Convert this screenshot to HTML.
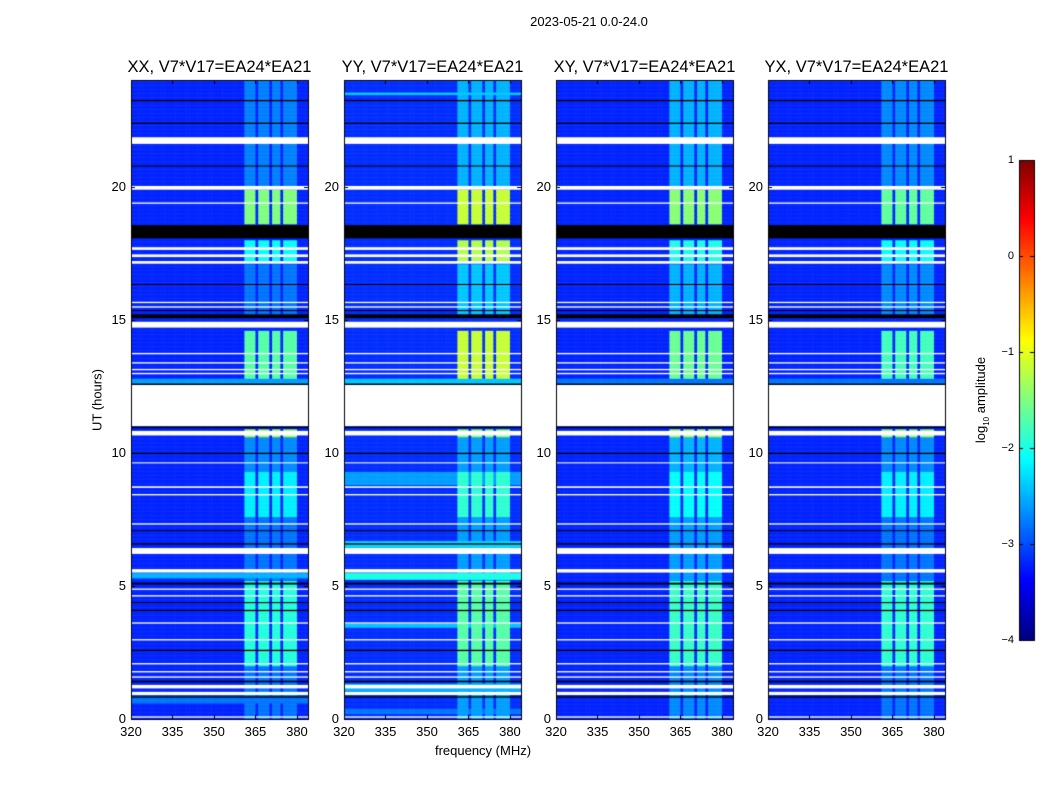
<!DOCTYPE html>
<html><head><meta charset="utf-8">
<style>
body{margin:0;background:#fff;font-family:"Liberation Sans",sans-serif;}
#wrap{position:relative;width:1050px;height:800px;overflow:hidden;background:#fff}
.t{position:absolute;font-size:13px;color:#000;white-space:nowrap}
.title{position:absolute;font-size:16.5px;white-space:nowrap;transform:translateX(-50%)}
canvas{position:absolute;left:0;top:0}
</style></head><body>
<div id="wrap">
<canvas id="cv" width="1050" height="800"></canvas>
<div class="t" style="left:589px;top:14px;transform:translateX(-50%)">2023-05-21 0.0-24.0</div>
<div class="t" style="left:483px;top:743px;transform:translateX(-50%)">frequency (MHz)</div>
<div class="t" style="left:97px;top:400px;transform:translate(-50%,-50%) rotate(-90deg)">UT (hours)</div>
<div class="t" style="left:982px;top:400px;transform:translate(-50%,-50%) rotate(-90deg)">log<sub style="font-size:8px">10</sub> amplitude</div>
<div id="labels"></div>
</div>
<script>
// ---- data ----
const panelTitles = ["XX, V7*V17=EA24*EA21","YY, V7*V17=EA24*EA21","XY, V7*V17=EA24*EA21","YX, V7*V17=EA24*EA21"];
const xTicks = [320,335,350,365,380];
const yTicks = [0,5,10,15,20];
const cbTicks = [1,0,-1,-2,-3,-4];
const freqMin = 320, freqMax = 384, timeMin = 0, timeMax = 24;
const baseLevel = [-3.2,-3.15,-3.2,-3.2];
const bgBands = [
 [[12.6,12.8,-2.6],[5.3,5.5,-2.5],[0.6,0.9,-2.8]],
 [[12.6,12.8,-2.4],[8.8,9.3,-2.6],[5.25,5.5,-2.0],[6.45,6.7,-2.3],[1.05,1.35,-2.5],[3.45,3.6,-2.4],[23.45,23.55,-2.4],[0.2,0.4,-2.8]],
 [[12.6,12.8,-2.8]],
 [[12.6,12.8,-2.8]]
];
const rfiChannels = [[361,365.2],[366,370],[371,374.5],[375.5,380]];
const rfiSegs = [
 [[18.6,19.9,-1.5],[17.2,18.0,-2.1],[12.8,14.6,-1.7],[7.6,9.3,-2.2],[2.0,5.2,-1.95],[10.6,10.9,-1.3],[15.2,17.1,-2.8],[20.0,24,-2.75],[5.2,7.6,-2.8],[9.3,10.6,-2.7],[0,2.0,-2.8]],
 [[18.6,19.9,-1.15],[17.2,18.0,-1.25],[12.8,14.6,-1.15],[7.6,9.3,-1.9],[2.0,5.2,-1.7],[10.6,10.9,-1.4],[15.2,17.1,-2.4],[20.0,24,-2.5],[5.2,7.6,-2.6],[9.3,10.6,-2.6],[0,2.0,-2.6]],
 [[18.6,19.9,-1.45],[17.2,18.0,-2.0],[12.8,14.6,-1.6],[7.6,9.3,-2.1],[2.0,5.2,-1.85],[10.6,10.9,-1.3],[15.2,17.1,-2.5],[20.0,24,-2.5],[5.2,7.6,-2.6],[9.3,10.6,-2.5],[0,2.0,-2.7]],
 [[18.6,19.9,-1.65],[17.2,18.0,-2.1],[12.8,14.6,-1.8],[7.6,9.3,-2.2],[2.0,5.2,-1.9],[10.6,10.9,-1.4],[15.2,17.1,-2.7],[20.0,24,-2.7],[5.2,7.6,-2.8],[9.3,10.6,-2.7],[0,2.0,-2.8]]
];
const whiteFlags = [[11.0,12.55],[21.6,21.85],[19.88,20.02],[14.7,14.92],[10.65,10.82],[17.1,17.2],[17.35,17.45],[17.62,17.72],[6.2,6.42],[5.5,5.63],[0.9,1.02],[1.15,1.28],[15.45,15.5],[15.62,15.67],[13.7,13.75],[13.35,13.4],[13.1,13.15],[8.4,8.45],[8.68,8.74],[2.95,3.0],[3.58,3.63],[2.05,2.1],[4.6,4.65],[4.85,4.9],[19.35,19.4],[7.3,7.35],[1.55,1.6],[1.75,1.8],[0.05,0.1],[9.6,9.64],[12.95,13.0]];
const blackFlags = [[18.05,18.55],[15.05,15.2],[23.2,23.25],[22.35,22.4],[10.92,10.98],[5.05,5.12],[1.38,1.44],[4.05,4.1],[2.55,2.6],[16.3,16.34],[20.75,20.79],[15.32,15.36],[12.55,12.6],[6.55,6.6],[7.05,7.09],[9.95,10.0],[0.8,0.85],[4.35,4.39]];
// ---- layout ----
const panelX = [131,344,556,768], panelW = 177, plotTop = 80, plotBottom = 719;
const cv = document.getElementById('cv'), ctx = cv.getContext('2d');
function jet(v){
  let t=(v+4)/5; t=Math.max(0,Math.min(1,t));
  const f=(a)=>Math.max(0,Math.min(1,a));
  const r=f(1.5-Math.abs(4*t-3)), g=f(1.5-Math.abs(4*t-2)), b=f(1.5-Math.abs(4*t-1));
  return `rgb(${Math.round(r*255)},${Math.round(g*255)},${Math.round(b*255)})`;
}
function xs(p,f){return panelX[p]+(f-freqMin)/(freqMax-freqMin)*panelW;}
function ys(h){return plotBottom-(h-timeMin)/(timeMax-timeMin)*(plotBottom-plotTop);}
const dt=0.05, df=1;
function inRanges(v,arr){for(const r of arr){if(v>=r[0]&&v<r[1])return r;}return null;}
for(let p=0;p<4;p++){
  for(let h=timeMin;h<timeMax-1e-9;h+=dt){
    const hm=h+dt/2;
    let bg=baseLevel[p];
    const b=inRanges(hm,bgBands[p]); if(b) bg=b[2];
    const rs=inRanges(hm,rfiSegs[p]);
    for(let f=freqMin;f<freqMax;f+=df){
      const fm=f+df/2;
      let v=bg;
      if(rs && inRanges(fm,rfiChannels)) v=Math.max(bg,rs[2]);
      ctx.fillStyle=jet(v);
      const x0=xs(p,f),x1=xs(p,f+df),y0=ys(h+dt),y1=ys(h);
      ctx.fillRect(x0,y0,x1-x0+0.5,y1-y0+0.5);
    }
  }
  ctx.fillStyle='#fff';
  for(const w of whiteFlags){ctx.fillRect(panelX[p],ys(w[1]),panelW,ys(w[0])-ys(w[1]));}
  ctx.fillStyle='#000';
  for(const w of blackFlags){ctx.fillRect(panelX[p],ys(w[1]),panelW,Math.max(1,ys(w[0])-ys(w[1])));}
  ctx.strokeStyle='#000';ctx.lineWidth=1;
  ctx.strokeRect(panelX[p]+0.5,plotTop+0.5,panelW,plotBottom-plotTop);
  for(const t of xTicks){const x=Math.round(xs(p,t))+0.5;ctx.beginPath();ctx.moveTo(x,plotBottom);ctx.lineTo(x,plotBottom-4);ctx.moveTo(x,plotTop);ctx.lineTo(x,plotTop+4);ctx.stroke();}
  for(const t of yTicks){const y=Math.round(ys(t))+0.5;ctx.beginPath();ctx.moveTo(panelX[p],y);ctx.lineTo(panelX[p]+4,y);ctx.moveTo(panelX[p]+panelW,y);ctx.lineTo(panelX[p]+panelW-4,y);ctx.stroke();}
}
const cbX=1019,cbW=15,cbTop=160,cbBot=640;
for(let y=cbTop;y<cbBot;y++){const v=1-(y-cbTop+0.5)/(cbBot-cbTop)*5;ctx.fillStyle=jet(v);ctx.fillRect(cbX,y,cbW,1);}
ctx.strokeStyle='#000';ctx.strokeRect(cbX+0.5,cbTop+0.5,cbW,cbBot-cbTop);
const labels=document.getElementById('labels');
function addLabel(txt,x,y,cls,name,align,fs){
  const d=document.createElement('div');
  d.className=cls;d.textContent=txt;
  
  
  d.style.left=x+'px';d.style.top=y+'px';
  if(align) d.style.transform=align;
  if(fs) d.style.fontSize=fs;
  labels.appendChild(d);
}
for(let p=0;p<4;p++){
  addLabel(panelTitles[p],panelX[p]+panelW/2,58,'title','panel-title',null);
  for(const t of xTicks) addLabel(String(t),xs(p,t),724,'t','x-tick-label','translateX(-50%)');
  for(const t of yTicks) addLabel(String(t),panelX[p]-5,ys(t)-8,'t','y-tick-label','translateX(-100%)');
}
for(const t of cbTicks){
  const y=cbTop+(1-t)/5*(cbBot-cbTop);
  ctx.beginPath();ctx.moveTo(cbX,y+0.5);ctx.lineTo(cbX+4,y+0.5);ctx.moveTo(cbX+cbW,y+0.5);ctx.lineTo(cbX+cbW-4,y+0.5);ctx.stroke();
  addLabel((t<0?'\u2212':'')+Math.abs(t),1014,y-6,'t','colorbar-tick-label','translateX(-100%)','11px');
}
</script>
</body></html>
